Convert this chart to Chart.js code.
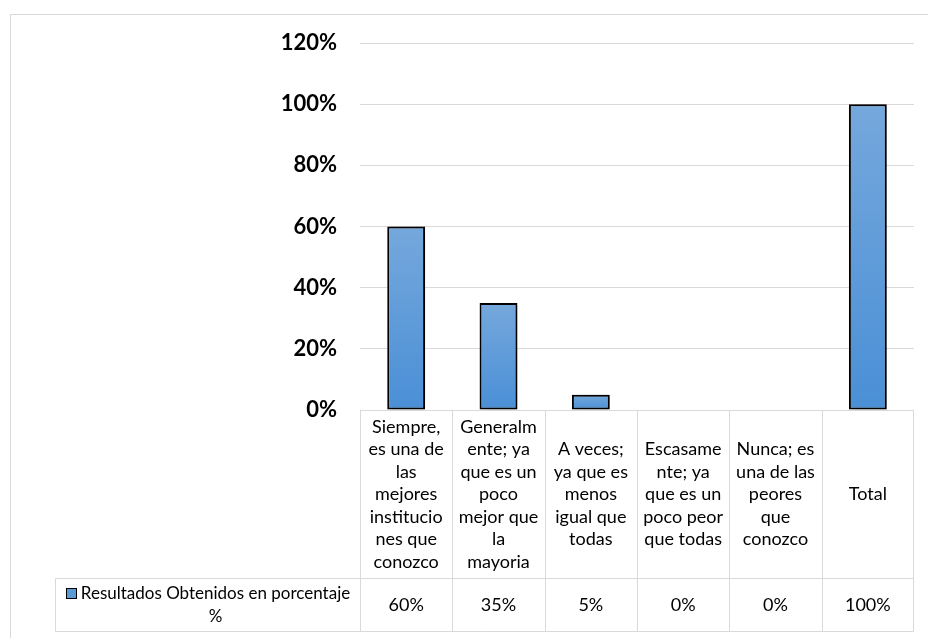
<!DOCTYPE html>
<html><head><meta charset="utf-8">
<script src="https://cdn.jsdelivr.net/npm/chart.js@4/dist/chart.umd.min.js"></script>
<style>html,body{margin:0;padding:0;background:#fff;} #wrap{width:928px;height:638px;position:relative;}</style>
</head><body><div id="wrap"><canvas id="c" width="928" height="638"></canvas></div>
<script>
const categories = [
  ['Siempre,','es una de','las','mejores','institucio','nes que','conozco'],
  ['Generalm','ente; ya','que es un','poco','mejor que','la','mayoria'],
  ['A veces;','ya que es','menos','igual que','todas'],
  ['Escasame','nte; ya','que es un','poco peor','que todas'],
  ['Nunca; es','una de las','peores','que','conozco'],
  ['Total']
];
const seriesName = 'Resultados Obtenidos en porcentaje %';
const values = [60, 35, 5, 0, 0, 100];
const yTicks = [0, 20, 40, 60, 80, 100, 120];
const valueLabels = values.map(v => v + '%');

const FONT = 'Lato, "Open Sans", sans-serif';
const GRID = '#d9d9d9';

const framePlugin = {
  id: 'frame',
  beforeDraw(chart) {
    const ctx = chart.ctx;
    ctx.save();
    ctx.fillStyle = '#fff';
    ctx.fillRect(0, 0, chart.width, chart.height);
    ctx.strokeStyle = GRID;
    ctx.lineWidth = 1;
    ctx.strokeRect(10.5, 14.5, chart.width + 20, chart.height + 20);
    ctx.restore();
  }
};

const shadowPlugin = {
  id: 'barShadow',
  beforeDatasetsDraw(chart) {
    const ctx = chart.ctx;
    ctx.save();
    ctx.shadowColor = 'rgba(0,0,0,0.35)';
    ctx.shadowBlur = 6;
    ctx.shadowOffsetX = 3;
    ctx.shadowOffsetY = 0;
  },
  afterDatasetsDraw(chart) {
    chart.ctx.restore();
  }
};

const tablePlugin = {
  id: 'dataTable',
  afterDraw(chart) {
    const ctx = chart.ctx;
    const area = chart.chartArea;
    const xs = chart.scales.x, ys = chart.scales.y;
    const n = categories.length;
    const colW = (area.right - area.left) / n;
    const top = Math.round(ys.getPixelForValue(yTicks[0])) + 0.5;
    const mid = 578.5, bot = 631.5, legLeft = 55.5;
    const L = Math.round(area.left) + 0.5, R = Math.round(area.right) - 0.5;
    ctx.save();
    ctx.strokeStyle = GRID;
    ctx.lineWidth = 1;
    const line = (x1, y1, x2, y2) => { ctx.beginPath(); ctx.moveTo(x1, y1); ctx.lineTo(x2, y2); ctx.stroke(); };
    line(L, top, R, top);
    line(legLeft, mid, R, mid);
    line(legLeft, bot, R, bot);
    for (let i = 0; i <= n; i++) {
      const x = i === n ? R : Math.round(area.left + i * colW) + 0.5;
      line(x, top, x, bot);
    }
    line(legLeft, mid, legLeft, bot);

    ctx.fillStyle = '#000';
    ctx.font = '18px ' + FONT;
    ctx.textAlign = 'center';
    ctx.textBaseline = 'middle';
    const lh = 22.5;
    const hc = (top + mid) / 2;
    categories.forEach((lines, i) => {
      const cx = xs.getPixelForValue(i);
      const y0 = hc - (lines.length - 1) * lh / 2;
      lines.forEach((t, j) => ctx.fillText(t, cx, y0 + j * lh));
    });
    const vc = (mid + bot) / 2;
    valueLabels.forEach((t, i) => ctx.fillText(t, xs.getPixelForValue(i), vc));

    // legend cell
    ctx.font = '17px ' + FONT;
    const sq = 11, gap = 4;
    const cellW = L - legLeft;
    const maxW = cellW - 4 - sq - gap;
    const words = seriesName.split(' ');
    const lines = [];
    let cur = '';
    words.forEach(w => {
      const test = cur ? cur + ' ' + w : w;
      if (cur && ctx.measureText(test).width > maxW) { lines.push(cur); cur = w; }
      else cur = test;
    });
    if (cur) lines.push(cur);
    const maxLW = Math.max(...lines.map(t => ctx.measureText(t).width));
    const total = sq + gap + maxLW;
    const start = (legLeft + L) / 2 - total / 2;
    const tcx = start + sq + gap + maxLW / 2;
    const llh = 23.5;
    const ly0 = vc - (lines.length - 1) * llh / 2;
    lines.forEach((t, j) => ctx.fillText(t, tcx, ly0 + j * llh));
    ctx.fillStyle = '#5b9bd5';
    ctx.fillRect(Math.round(start) + 0.5, Math.round(ly0 - sq / 2) + 0.5, sq - 1, sq - 1);
    ctx.strokeStyle = '#000';
    ctx.lineWidth = 1;
    ctx.strokeRect(Math.round(start) + 0.5, Math.round(ly0 - sq / 2) + 0.5, sq - 1, sq - 1);
    ctx.restore();
  }
};

function barFill(c) {
  const chart = c.chart;
  const area = chart.chartArea;
  const ys = chart.scales && chart.scales.y;
  if (!area || !ys || c.type !== 'data' || !c.parsed) return '#5b9bd5';
  const t = ys.getPixelForValue(c.parsed.y);
  const b = ys.getPixelForValue(0);
  if (!isFinite(t) || !isFinite(b) || b - t < 1) return '#5b9bd5';
  const g = chart.ctx.createLinearGradient(0, t, 0, b);
  g.addColorStop(0, '#75a8dc');
  g.addColorStop(1, '#4a8fd6');
  return g;
}

new Chart(document.getElementById('c'), {
  type: 'bar',
  data: {
    labels: categories,
    datasets: [{
      label: seriesName,
      data: values,
      backgroundColor: barFill,
      borderColor: '#000',
      borderWidth: c => (c.raw === 0 ? 0 : 2),
      borderSkipped: false,
      categoryPercentage: 1,
      barPercentage: 0.41
    }]
  },
  options: {
    responsive: false,
    animation: false,
    layout: { padding: { left: 0, top: 43, right: 14, bottom: 228 } },
    plugins: { legend: { display: false }, tooltip: { enabled: false } },
    scales: {
      x: { display: false },
      y: {
        min: yTicks[0],
        max: yTicks[yTicks.length - 1],
        afterFit: s => { s.width = 360; },
        border: { display: false },
        grid: { color: GRID, lineWidth: 1, drawTicks: false },
        ticks: {
          stepSize: yTicks[1] - yTicks[0],
          padding: 23,
          color: '#000',
          font: { family: FONT, size: 22, weight: 'bold' },
          callback: v => v + '%'
        }
      }
    }
  },
  plugins: [framePlugin, shadowPlugin, tablePlugin]
});
</script>
</body></html>
